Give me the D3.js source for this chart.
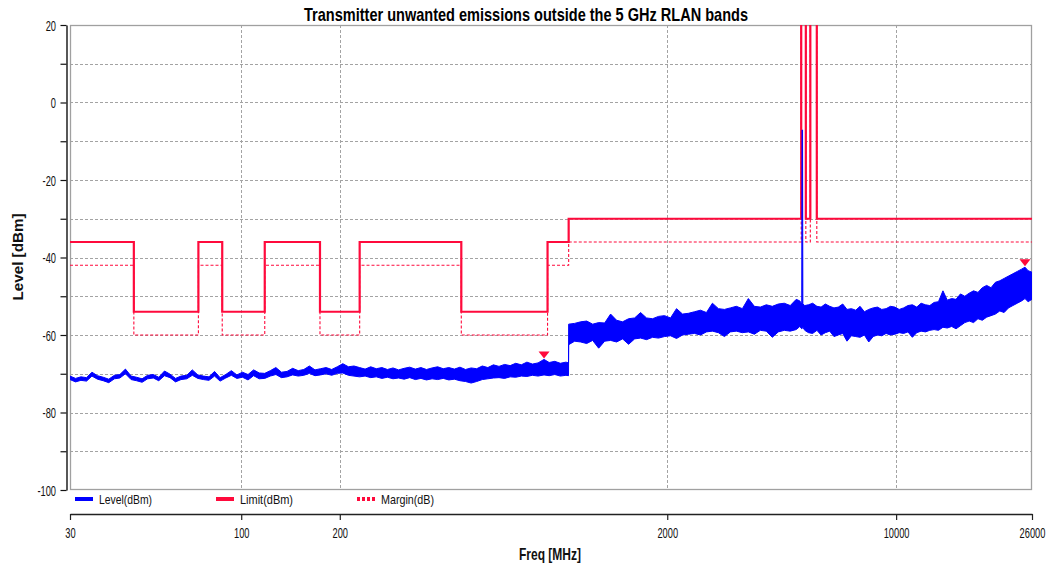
<!DOCTYPE html>
<html><head><meta charset="utf-8">
<script src="https://cdn.jsdelivr.net/npm/d3@7"></script>
<style>body{margin:0;background:#fff} svg{display:block}</style>
</head><body><svg id="c" width="1054" height="569"></svg>
<script>
// ---------- DATA ----------
const titleText = "Transmitter unwanted emissions outside the 5 GHz RLAN bands";
const xTickValues = [30, 100, 200, 2000, 10000, 26000];
const xGridValues = [100, 200, 2000, 10000];
const yTickValues = [-100, -90, -80, -70, -60, -50, -40, -30, -20, -10, 0, 10, 20];
const yLabelValues = [-100, -80, -60, -40, -20, 0, 20];

// limit line segments (MHz, dBm); 100 = off the top of the chart
const limitStart = [30, 47, 74, 87.5, 118, 174, 230, 470, 862, 1000, 5130, 5300, 5470, 5725];
const limitEnd   = [47, 74, 87.5, 118, 174, 230, 470, 862, 1000, 5130, 5300, 5470, 5725, 26000];
const limitValue = [-36, -54, -36, -54, -36, -54, -36, -54, -36, -30, 100, -30, 100, -30];
const marginValue = [-42, -60, -42, -60, -42, -60, -42, -60, -42, -36, 100, -36, 100, -36];

// measured level trace: frequency (MHz), upper and lower envelope (dBm)
const levelFreq = [
 30, 31.2, 32.4, 33.7, 35, 36.4, 37.9, 39.4, 41, 42.6, 44.3, 46.1, 47.9, 49.8, 51.8, 53.9, 56, 58.3, 60.6, 63,
 65.5, 68.2, 70.9, 73.7, 76.7, 79.7, 82.9, 86.2, 89.7, 93.3, 97, 100.9, 104.9, 109.1, 113.5, 118, 122.7, 127.6, 132.7, 138,
 143.6, 149.3, 155.3, 161.5, 168, 174.7, 181.7, 188.9, 196.5, 204.3, 212.5, 221, 229.8, 239, 248.6, 258.5, 268.9, 279.6, 290.8, 302.4,
 314.5, 327.1, 340.2, 353.8, 368, 382.7, 398, 413.9, 430.5, 447.7, 465.6, 484.2, 503.6, 523.7, 544.7, 566.5, 589.1, 612.7, 637.2, 662.7,
 689.2, 716.8, 745.5, 775.3, 806.3, 841, 872, 907, 943, 981, 999,
 1000, 1043, 1088, 1135, 1184, 1235, 1288, 1343, 1401, 1461, 1524, 1590, 1658, 1729, 1804, 1881, 1962, 2047, 2135, 2227,
 2322, 2422, 2526, 2635, 2748, 2866, 2990, 3118, 3252, 3392, 3538, 3690, 3849, 4014, 4187, 4367, 4555, 4750, 4955, 5080,
 5150, 5160, 5180, 5190, 5260, 5400, 5560, 5730, 5900, 6080, 6270, 6460, 6660, 6870, 7080, 7300, 7530, 7760, 8000, 8250,
 8510, 8770, 9040, 9320, 9610, 9910, 10220, 10540, 10870, 11210, 11560, 11920, 12290, 12670, 13060, 13470, 13900, 14330, 14780, 15240,
 15720, 16210, 16720, 17240, 17780, 18330, 18900, 19490, 20100, 20730, 21370, 22040, 22730, 23440, 24170, 24750, 25300, 26000
];
const levelHi = [
 -70.6, -71.2, -70.8, -71.0, -69.6, -70.5, -70.9, -71.4, -70.4, -70.2, -68.8, -70.6, -70.9, -71.3, -70.4, -70.2, -70.9, -69.3, -70.1, -71.2,
 -70.6, -70.4, -69.0, -70.3, -70.6, -70.8, -69.4, -71.0, -70.2, -69.2, -70.3, -69.6, -70.2, -69.0, -69.8, -69.9, -69.2, -68.4, -69.6, -69.4,
 -68.6, -69.2, -68.9, -68.0, -69.0, -68.7, -68.4, -68.9, -68.2, -67.4, -68.2, -68.0, -68.4, -68.8, -68.2, -68.7, -68.4, -68.9, -68.5, -69.0,
 -68.6, -68.3, -68.8, -68.4, -68.9, -68.5, -68.2, -68.7, -68.4, -68.8, -68.3, -68.9, -68.5, -68.7, -68.0, -68.4, -67.7, -68.1, -67.6, -67.9,
 -67.3, -67.7, -67.0, -67.5, -67.2, -66.3, -67.1, -66.8, -67.3, -67.0, -67.2,
 -57.2, -57.0, -56.6, -56.4, -57.2, -56.8, -56.9, -54.6, -56.2, -56.6, -55.8, -55.6, -54.2, -55.6, -55.8, -55.2, -55.0, -55.6, -53.2, -54.6,
 -54.4, -54.0, -53.6, -54.2, -51.8, -53.2, -53.4, -53.0, -52.6, -53.2, -50.6, -52.6, -52.8, -52.2, -52.6, -52.0, -51.8, -52.4, -50.8, -51.2,
 -52.0, -7.1, -7.1, -52.0, -52.4, -52.2, -51.8, -52.6, -52.8, -52.0, -52.6, -53.0, -52.8, -52.0, -53.4, -53.2, -53.6, -52.6, -54.0, -53.4,
 -53.0, -52.8, -53.4, -53.2, -52.6, -52.8, -53.4, -53.0, -52.4, -52.2, -52.8, -51.8, -52.2, -52.4, -51.6, -51.4, -48.6, -51.0, -50.6, -50.8,
 -49.4, -50.0, -49.2, -48.6, -49.0, -47.8, -47.2, -47.8, -46.4, -46.0, -45.4, -44.8, -44.2, -43.6, -43.0, -42.5, -43.4, -43.8
];
const levelLo = [
 -71.5, -72.1, -71.7, -71.9, -70.6, -71.4, -71.8, -72.3, -71.3, -71.1, -70.0, -71.5, -71.8, -72.2, -71.3, -71.1, -71.8, -70.5, -71.0, -72.1,
 -71.5, -71.3, -70.4, -71.2, -71.5, -71.7, -70.6, -71.9, -71.1, -70.4, -71.2, -70.9, -71.6, -70.5, -71.3, -71.2, -70.6, -70.2, -71.0, -70.8,
 -70.3, -70.6, -70.4, -69.9, -70.5, -70.3, -70.0, -70.4, -69.9, -69.8, -70.4, -70.6, -70.8, -70.6, -71.0, -70.8, -71.2, -70.9, -71.3, -71.1,
 -71.4, -71.0, -71.5, -71.2, -71.6, -71.3, -71.5, -71.2, -71.6, -71.4, -71.8, -72.0, -72.4, -72.0, -71.5, -71.3, -71.1, -71.0, -71.2, -70.8,
 -70.9, -70.6, -70.7, -70.4, -70.6, -70.3, -70.5, -70.2, -70.6, -70.4, -70.5,
 -62.5, -61.6, -61.8, -62.2, -61.4, -63.4, -61.6, -61.4, -61.8, -61.0, -62.4, -61.0, -60.8, -61.2, -60.6, -60.8, -60.4, -60.2, -60.9, -60.0,
 -59.8, -59.6, -60.0, -59.2, -59.0, -59.4, -60.4, -59.2, -59.0, -59.4, -59.2, -59.8, -58.8, -59.0, -60.6, -59.2, -58.8, -59.0, -58.6, -57.8,
 -58.4, -58.4, -58.0, -58.0, -58.8, -59.4, -59.6, -58.8, -60.0, -59.4, -59.0, -60.4, -60.0, -59.6, -61.6, -60.2, -60.4, -60.6, -60.0, -61.8,
 -60.4, -60.0, -60.2, -59.6, -60.0, -59.8, -59.4, -59.6, -59.2, -60.6, -59.4, -59.0, -59.2, -58.8, -58.6, -58.8, -58.0, -58.2, -57.8, -58.4,
 -57.6, -56.8, -56.4, -56.8, -55.8, -56.2, -55.4, -55.0, -54.6, -53.8, -54.2, -53.0, -52.4, -51.8, -51.2, -50.6, -51.4, -50.8
];

// peak markers
const markerFreq = [841, 24750];
const markerValue = [-66.3, -42.5];

// legend
const legendNames = ["Level(dBm)", "Limit(dBm)", "Margin(dB)"];

// ---------- DRAW ----------
const L = 70, R = 1032, T = 25, B = 490;
const x = d3.scaleLog().domain([30, 26000]).range([L, R]);
const y = d3.scaleLinear().domain([-100, 20]).range([B, T]);
const svg = d3.select("#c");
const FONT = "'Liberation Sans', Arial, sans-serif";
const RED = "#ff0a3c", BLUE = "#0000ff", GRID = "#a3a3a3";

svg.append("defs").append("clipPath").attr("id", "pc")
  .append("rect").attr("x", L).attr("y", T).attr("width", R - L).attr("height", B - T);

// grid
const grid = svg.append("g");
grid.selectAll("line.h").data(yTickValues.filter(v => v > -100 && v < 20)).join("line")
  .attr("x1", L).attr("x2", R)
  .attr("y1", d => Math.round(y(d)) + 0.5).attr("y2", d => Math.round(y(d)) + 0.5)
  .attr("stroke", GRID).attr("stroke-dasharray", "3,2");
grid.selectAll("line.v").data(xGridValues).join("line")
  .attr("y1", T).attr("y2", B)
  .attr("x1", d => Math.round(x(d)) + 0.5).attr("x2", d => Math.round(x(d)) + 0.5)
  .attr("stroke", GRID).attr("stroke-dasharray", "3,2");

// frame
svg.append("rect").attr("x", L + 0.5).attr("y", T + 0.5).attr("width", R - L - 1).attr("height", B - T - 1)
  .attr("fill", "none").attr("stroke", "#a0a0a0").attr("stroke-width", 1.3);

const plot = svg.append("g").attr("clip-path", "url(#pc)");

function stepPoints(vals) {
  return limitStart.flatMap((s, i) => [{f: s, v: vals[i]}, {f: limitEnd[i], v: vals[i]}]);
}
const stepLine = d3.line().x(d => x(d.f)).y(d => y(d.v));

plot.append("path").attr("d", stepLine(stepPoints(marginValue)))
  .attr("fill", "none").attr("stroke", RED).attr("stroke-width", 1.1).attr("stroke-dasharray", "3,2");
plot.append("path").attr("d", stepLine(stepPoints(limitValue)))
  .attr("fill", "none").attr("stroke", RED).attr("stroke-width", 2.2);

const levelData = levelFreq.map((f, i) => ({f, hi: levelHi[i], lo: levelLo[i]}));
plot.append("path")
  .attr("d", d3.area().x(d => x(d.f)).y0(d => y(d.lo)).y1(d => y(d.hi))(levelData))
  .attr("fill", BLUE).attr("stroke", BLUE).attr("stroke-width", 1.0).attr("stroke-linejoin", "round");

// markers
svg.selectAll("path.mk").data(markerFreq.map((f, i) => ({f, v: markerValue[i]}))).join("path")
  .attr("transform", d => `translate(${x(d.f)},${y(d.v) - 1})`)
  .attr("d", "M0,0L-5.5,-7L5.5,-7Z").attr("fill", RED);

// y axis
const yAxis = svg.append("g").attr("transform", "translate(66.5,0)")
  .call(d3.axisLeft(y).tickValues(yTickValues).tickSize(6).tickSizeOuter(0)
    .tickFormat(d => yLabelValues.includes(d) ? String(d) : ""));
yAxis.select(".domain").attr("stroke", "#111").attr("stroke-width", 1.4);
yAxis.selectAll(".tick line").attr("stroke", "#111").attr("stroke-width", 1.2);
yAxis.selectAll(".tick text").attr("font-family", FONT).attr("font-size", 15).attr("fill", "#111")
  .attr("x", -10.5 / 0.62).attr("dy", "0.34em").attr("transform", "scale(0.62,1)");

// x axis
const xAxis = svg.append("g").attr("transform", "translate(0,514)")
  .call(d3.axisBottom(x).tickValues(xTickValues).tickSize(6).tickSizeOuter(0).tickFormat(d => String(d)));
xAxis.select(".domain").attr("stroke", "#222").attr("stroke-width", 1.6);
xAxis.selectAll(".tick line").attr("stroke", "#222").attr("stroke-width", 1.2);
xAxis.selectAll(".tick text").attr("font-family", FONT).attr("font-size", 15).attr("fill", "#111")
  .attr("y", 13).attr("dy", "0.71em").attr("transform", "scale(0.62,1)");

// legend
const legX = [75, 216, 357];
const leg = svg.append("g");
leg.append("line").attr("x1", legX[0]).attr("x2", legX[0] + 18).attr("y1", 499).attr("y2", 499)
  .attr("stroke", BLUE).attr("stroke-width", 4);
leg.append("line").attr("x1", legX[1]).attr("x2", legX[1] + 18).attr("y1", 499).attr("y2", 499)
  .attr("stroke", RED).attr("stroke-width", 4);
leg.append("line").attr("x1", legX[2]).attr("x2", legX[2] + 19).attr("y1", 499).attr("y2", 499)
  .attr("stroke", RED).attr("stroke-width", 4).attr("stroke-dasharray", "3,2");
leg.selectAll("text").data(legendNames).join("text")
  .attr("x", (d, i) => legX[i] + 24).attr("y", 504)
  .attr("font-family", FONT).attr("font-size", 13.5).attr("fill", "#111")
  .attr("textLength", 53).attr("lengthAdjust", "spacingAndGlyphs").text(d => d);

// titles
svg.append("text").attr("x", 526).attr("y", 21).attr("text-anchor", "middle")
  .attr("font-family", FONT).attr("font-weight", "bold").attr("font-size", 18.5).attr("fill", "#000")
  .attr("textLength", 444).attr("lengthAdjust", "spacingAndGlyphs").text(titleText);
svg.append("text").attr("x", 550).attr("y", 560).attr("text-anchor", "middle")
  .attr("font-family", FONT).attr("font-weight", "bold").attr("font-size", 16.5).attr("fill", "#111")
  .attr("textLength", 62).attr("lengthAdjust", "spacingAndGlyphs").text("Freq [MHz]");
svg.append("text").attr("transform", "translate(23,257) rotate(-90)").attr("text-anchor", "middle")
  .attr("font-family", FONT).attr("font-weight", "bold").attr("font-size", 15.5).attr("fill", "#111")
  .attr("textLength", 87).attr("lengthAdjust", "spacingAndGlyphs").text("Level [dBm]");
</script></body></html>
